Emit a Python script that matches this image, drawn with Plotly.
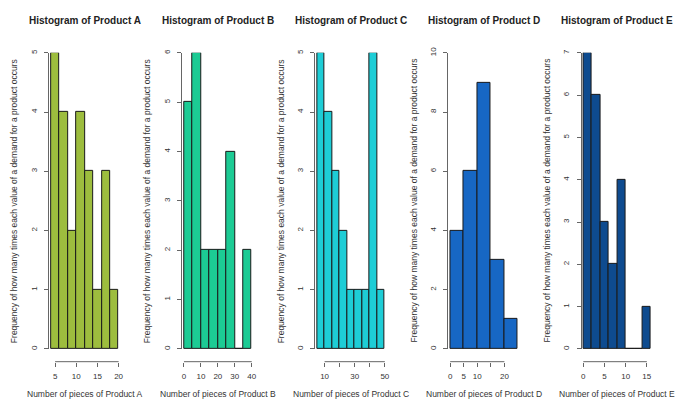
import plotly.graph_objects as go

# ---- data ----
products = ["A", "B", "C", "D", "E"]
bin_edges_A = [4, 6, 8, 10, 12, 14, 16, 18, 20]
counts_A = [5, 4, 2, 4, 3, 1, 3, 1]
bin_edges_B = [0, 5, 10, 15, 20, 25, 30, 35, 40]
counts_B = [5, 6, 2, 2, 2, 4, 0, 2]
bin_edges_C = [5, 10, 15, 20, 25, 30, 35, 40, 45, 50]
counts_C = [5, 4, 3, 2, 1, 1, 1, 5, 1]
bin_edges_D = [0, 5, 10, 15, 20, 25]
counts_D = [4, 6, 9, 3, 1]
bin_edges_E = [0, 2, 4, 6, 8, 10, 12, 14, 16]
counts_E = [7, 6, 3, 2, 4, 0, 0, 1]

xticks_A = [5, 10, 15, 20]
xlabels_A = ["5", "10", "15", "20"]
xticks_B = [0, 10, 20, 30, 40]
xlabels_B = ["0", "10", "20", "30", "40"]
xticks_C = [10, 20, 30, 40, 50]
xlabels_C = ["10", "", "30", "", "50"]
xticks_D = [0, 5, 10, 15, 20]
xlabels_D = ["0", "5", "10", "", "20"]
xticks_E = [0, 5, 10, 15]
xlabels_E = ["0", "5", "10", "15"]

yticks_A = [0, 1, 2, 3, 4, 5]
yticks_B = [0, 1, 2, 3, 4, 5, 6]
yticks_C = [0, 1, 2, 3, 4, 5]
yticks_D = [0, 2, 4, 6, 8, 10]
yticks_E = [0, 1, 2, 3, 4, 5, 6, 7]

colors = ["#9dbd3e", "#1ccb94", "#1ecdd6", "#1767c4", "#0e4b8f"]

panels = [
    (bin_edges_A, counts_A, xticks_A, xlabels_A, yticks_A),
    (bin_edges_B, counts_B, xticks_B, xlabels_B, yticks_B),
    (bin_edges_C, counts_C, xticks_C, xlabels_C, yticks_C),
    (bin_edges_D, counts_D, xticks_D, xlabels_D, yticks_D),
    (bin_edges_E, counts_E, xticks_E, xlabels_E, yticks_E),
]

W, H = 675, 401
FONT = "Liberation Sans, Arial, sans-serif"
TEXT = "#333333"
AXIS = "#666666"

y_bot_px, y_top_px = 349.0, 47.7
xaxis_px = 362.0
ydom = [(H - y_bot_px) / H, (H - y_top_px) / H]
xaxis_pos = (H - xaxis_px) / H

fig = go.Figure()
annotations = []
shapes = []
layout_axes = {}

for i, (edges, counts, xt, xl, yt) in enumerate(panels):
    n = i + 1
    xa = "x" if n == 1 else f"x{n}"
    ya = "y" if n == 1 else f"y{n}"
    centers = [(edges[k] + edges[k + 1]) / 2 for k in range(len(counts))]
    widths = [edges[k + 1] - edges[k] for k in range(len(counts))]
    fig.add_trace(go.Bar(
        x=centers, y=counts, width=widths,
        marker=dict(color=colors[i], line=dict(color="#1a1a1a", width=1)),
        xaxis=xa, yaxis=ya, showlegend=False,
    ))
    x0 = 48.3 + 133.5 * i
    x1 = x0 + 73.4
    span = edges[-1] - edges[0]
    xr = [edges[0] - 0.04 * span, edges[-1] + 0.04 * span]
    layout_axes["xaxis" if n == 1 else f"xaxis{n}"] = dict(
        domain=[x0 / W, x1 / W], range=xr, anchor="free", position=xaxis_pos,
        showline=False, showgrid=False, zeroline=False,
        tickmode="array", tickvals=xt, ticktext=xl,
        ticks="outside", ticklen=4, tickcolor=AXIS, tickwidth=1,
        tickfont=dict(family=FONT, size=8, color=TEXT), ticklabelstandoff=3,
        fixedrange=True,
    )
    layout_axes["yaxis" if n == 1 else f"yaxis{n}"] = dict(
        domain=ydom, range=[0, yt[-1]], anchor="free", position=x0 / W,
        showline=True, linecolor=AXIS, linewidth=1,
        showgrid=False, zeroline=False,
        tickmode="array", tickvals=yt,
        ticks="outside", ticklen=4, tickcolor=AXIS, tickwidth=1,
        tickangle=-90, tickfont=dict(family=FONT, size=8, color=TEXT),
        ticklabelstandoff=4, fixedrange=True,
    )
    # x axis line spanning first to last tick (R style)
    shapes.append(dict(type="line", xref=xa, yref="paper",
                       x0=xt[0], x1=xt[-1], y0=xaxis_pos, y1=xaxis_pos,
                       line=dict(color=AXIS, width=1)))
    cx = (x0 + x1) / 2 / W
    annotations.append(dict(
        text=f"<b>Histogram of Product {products[i]}</b>", xref="paper", yref="paper",
        x=cx, y=(H - 15) / H, xanchor="center", yanchor="middle", showarrow=False,
        font=dict(family=FONT, size=10, color="#222222")))
    annotations.append(dict(
        text=f"Number of pieces of Product {products[i]}", xref="paper", yref="paper",
        x=cx, y=(H - 395) / H, xanchor="center", yanchor="middle", showarrow=False,
        font=dict(family=FONT, size=8.5, color=TEXT)))
    annotations.append(dict(
        text="Frequency of how many times each value of a demand for a product occurs",
        xref="paper", yref="paper", x=(x0 - 34) / W, y=sum(ydom) / 2,
        xanchor="center", yanchor="middle", textangle=-90, showarrow=False,
        font=dict(family=FONT, size=8.5, color=TEXT)))

fig.update_layout(
    width=W, height=H, margin=dict(l=0, r=0, t=0, b=0),
    paper_bgcolor="white", plot_bgcolor="white",
    bargap=0, annotations=annotations, shapes=shapes,
    **layout_axes,
)

fig.write_html("out.html", config={"displayModeBar": False},
               post_script="document.body.style.margin='0';document.body.style.overflow='hidden';")
